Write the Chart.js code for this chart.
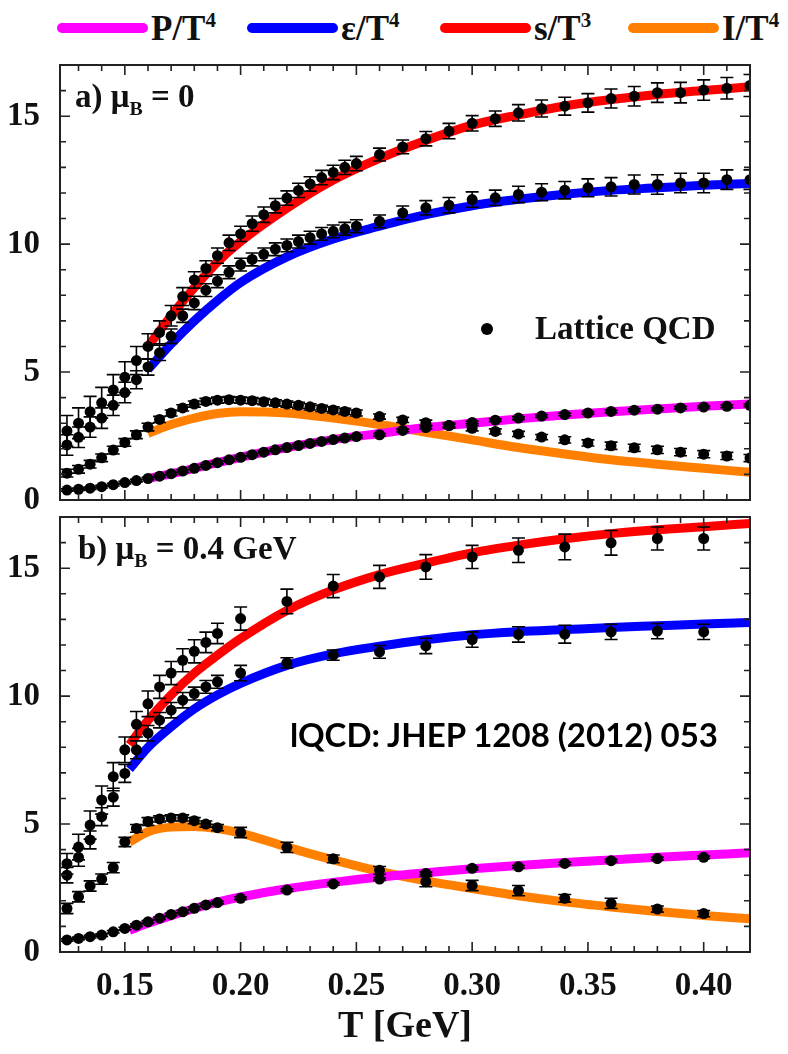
<!DOCTYPE html>
<html>
<head>
<meta charset="utf-8">
<title>QCD equation of state</title>
<script src="https://cdn.jsdelivr.net/npm/chart.js@4.4.1/dist/chart.umd.min.js"></script>
<style>
  html, body { margin: 0; padding: 0; background: #fff; }
  body { position: relative; width: 788px; height: 1054px; overflow: hidden;
         font-family: "Liberation Serif", "DejaVu Serif", serif; color: #111; }
  canvas { position: absolute; left: 0; }
  #panelA { top: 50px; }
  #panelB { top: 500px; }
  .txt { position: absolute; white-space: nowrap; font-weight: bold; }
  .legLine { position: absolute; top: 23px; height: 10px; width: 91px; border-radius: 5px; }
  .legText { top: 12px; font-size: 35px; line-height: 34px; }
  .note { font-size: 33px; line-height: 33px; font-family: "Liberation Serif", serif; }
  sup, sub { font-size: 0.6em; line-height: 0; }
  #ref { font-family: Lato, "Open Sans", sans-serif; font-size: 33px; line-height: 32px;
         left: 290px; top: 718px; color: #000; }
  #dot { position: absolute; left: 481px; top: 323px; width: 12px; height: 12px;
         border-radius: 50%; background: #000; }
</style>
</head>
<body>
<canvas id="panelA" width="788" height="470"></canvas>
<canvas id="panelB" width="788" height="554"></canvas>
<div id="legend"></div>
<div class="txt note" style="left:75px; top:80px">a) μ<sub>B</sub> = 0</div>
<div class="txt note" style="left:78px; top:532px">b) μ<sub>B</sub> = 0.4 GeV</div>
<div id="dot"></div>
<div class="txt note" style="left:535px; top:312px">Lattice QCD</div>
<div class="txt" id="ref">lQCD: JHEP 1208 (2012) 053</div>

<script>
// series order everywhere: P/T^4, eps/T^4, s/T^3, I/T^4
const seriesNames = ['P/T<sup>4</sup>', 'ε/T<sup>4</sup>', 's/T<sup>3</sup>', 'I/T<sup>4</sup>'];
const seriesColors = ['#ff00ff', '#0000ff', '#ff0000', '#ff8000'];

// ---- panel a) muB = 0 : lattice points ----
const tLatA = [0.125, 0.130, 0.135, 0.140, 0.145, 0.150, 0.155, 0.160, 0.165, 0.170, 0.175, 0.180, 0.185,
               0.190, 0.195, 0.200, 0.205, 0.210, 0.215, 0.220, 0.225, 0.230, 0.235, 0.240, 0.245, 0.250,
               0.26, 0.27, 0.28, 0.29, 0.30, 0.31, 0.32, 0.33, 0.34, 0.35, 0.36, 0.37, 0.38, 0.39, 0.40, 0.41, 0.42];
const pLatA = [0.39, 0.42, 0.46, 0.52, 0.60, 0.68, 0.76, 0.84, 0.93, 1.03, 1.13, 1.24, 1.35,
               1.46, 1.57, 1.67, 1.77, 1.87, 1.96, 2.05, 2.13, 2.21, 2.29, 2.36, 2.42, 2.48,
               2.55, 2.72, 2.83, 2.91, 3.03, 3.12, 3.20, 3.28, 3.34, 3.40, 3.46, 3.51, 3.55, 3.60, 3.63, 3.66, 3.70];
const eLatA = [2.15, 2.45, 2.85, 3.20, 3.70, 4.20, 4.70, 5.20, 5.75, 6.40, 7.20, 7.70, 8.20,
               8.55, 8.90, 9.20, 9.40, 9.60, 9.80, 9.95, 10.10, 10.25, 10.40, 10.50, 10.60, 10.70,
               10.89, 11.22, 11.42, 11.52, 11.74, 11.81, 11.94, 12.03, 12.11, 12.20, 12.24, 12.33, 12.33, 12.39, 12.39, 12.52, 12.52];
const sLatA = [2.70, 3.00, 3.45, 3.80, 4.30, 4.80, 5.45, 6.00, 6.55, 7.20, 7.95, 8.60, 9.05,
               9.55, 10.05, 10.40, 10.80, 11.15, 11.50, 11.80, 12.10, 12.35, 12.60, 12.80, 13.00, 13.15,
               13.50, 13.80, 14.12, 14.42, 14.72, 14.90, 15.13, 15.30, 15.39, 15.52, 15.69, 15.78, 15.92, 15.92, 16.02, 16.09, 16.20];
const iLatA = [1.05, 1.20, 1.40, 1.65, 1.95, 2.25, 2.55, 2.85, 3.15, 3.40, 3.60, 3.75, 3.85,
               3.90, 3.92, 3.90, 3.88, 3.84, 3.80, 3.75, 3.70, 3.64, 3.58, 3.52, 3.46, 3.40,
               3.26, 3.13, 3.02, 2.91, 2.80, 2.68, 2.58, 2.46, 2.35, 2.23, 2.12, 2.04, 1.96, 1.87, 1.79, 1.72, 1.64];
const pErrA = [0.05, 0.05, 0.05, 0.05, 0.05, 0.05, 0.05, 0.05, 0.05, 0.05, 0.05, 0.05, 0.05,
               0.05, 0.05, 0.05, 0.05, 0.05, 0.05, 0.05, 0.05, 0.05, 0.05, 0.05, 0.05, 0.05,
               0.05, 0.05, 0.05, 0.05, 0.05, 0.05, 0.05, 0.05, 0.05, 0.05, 0.05, 0.05, 0.05, 0.05, 0.05, 0.05, 0.05];
const eErrA = [0.40, 0.40, 0.40, 0.40, 0.40, 0.40, 0.35, 0.32, 0.30, 0.28, 0.26, 0.26, 0.25,
               0.25, 0.25, 0.25, 0.25, 0.25, 0.25, 0.25, 0.25, 0.25, 0.25, 0.25, 0.25, 0.25,
               0.25, 0.27, 0.28, 0.30, 0.30, 0.30, 0.32, 0.33, 0.34, 0.35, 0.36, 0.37, 0.38, 0.38, 0.38, 0.38, 0.38];
const sErrA = [0.60, 0.60, 0.60, 0.60, 0.60, 0.60, 0.55, 0.50, 0.45, 0.40, 0.35, 0.32, 0.30,
               0.30, 0.30, 0.30, 0.30, 0.30, 0.28, 0.28, 0.28, 0.28, 0.28, 0.28, 0.28, 0.28,
               0.25, 0.27, 0.28, 0.30, 0.30, 0.30, 0.32, 0.33, 0.35, 0.36, 0.37, 0.38, 0.38, 0.40, 0.40, 0.42, 0.43];
const iErrA = [0.15, 0.15, 0.15, 0.15, 0.15, 0.15, 0.15, 0.15, 0.12, 0.12, 0.12, 0.12, 0.12,
               0.12, 0.12, 0.12, 0.12, 0.12, 0.12, 0.12, 0.12, 0.12, 0.12, 0.12, 0.12, 0.12,
               0.10, 0.10, 0.10, 0.10, 0.10, 0.10, 0.10, 0.10, 0.12, 0.12, 0.14, 0.14, 0.14, 0.14, 0.14, 0.14, 0.14];

// ---- panel a) model curves ----
const tModA = [0.16, 0.17, 0.18, 0.19, 0.20, 0.22, 0.24, 0.26, 0.28, 0.30, 0.32, 0.34, 0.36, 0.38, 0.40, 0.42];
const pModA = [0.84, 1.03, 1.24, 1.46, 1.67, 2.05, 2.36, 2.60, 2.83, 3.00, 3.17, 3.32, 3.45, 3.56, 3.66, 3.75];
const eModA = [5.1, 6.1, 7.0, 7.8, 8.5, 9.5, 10.2, 10.7, 11.15, 11.5, 11.75, 11.95, 12.1, 12.2, 12.3, 12.37];
const sModA = [6.0, 7.2, 8.3, 9.3, 10.1, 11.4, 12.5, 13.35, 14.05, 14.65, 15.05, 15.4, 15.65, 15.85, 16.0, 16.15];
const iModA = [2.6, 2.95, 3.2, 3.38, 3.45, 3.4, 3.2, 2.95, 2.65, 2.35, 2.05, 1.8, 1.57, 1.4, 1.24, 1.08];

// ---- panel b) muB = 0.4 GeV : lattice points ----
const tLatB = [0.125, 0.130, 0.135, 0.140, 0.145, 0.150, 0.155, 0.160, 0.165, 0.170, 0.175, 0.180, 0.185, 0.190,
               0.20, 0.22, 0.24, 0.26, 0.28, 0.30, 0.32, 0.34, 0.36, 0.38, 0.40];
const pLatB = [0.47, 0.53, 0.60, 0.66, 0.79, 0.92, 1.05, 1.18, 1.32, 1.47, 1.57, 1.71, 1.84, 1.93,
               2.10, 2.42, 2.66, 2.85, 3.07, 3.27, 3.33, 3.46, 3.57, 3.65, 3.70];
const eLatB = [3.00, 3.70, 4.38, 5.29, 6.05, 6.98, 7.90, 8.55, 9.06, 9.45, 9.84, 10.10, 10.36, 10.56,
               10.90, 11.30, 11.60, 11.73, 11.96, 12.21, 12.41, 12.42, 12.51, 12.54, 12.51];
const sLatB = [3.45, 4.10, 4.96, 5.94, 6.85, 7.90, 8.90, 9.70, 10.36, 10.90, 11.40, 11.75, 12.10, 12.45,
               13.03, 13.70, 14.30, 14.66, 15.05, 15.44, 15.70, 15.83, 15.99, 16.16, 16.16];
const iLatB = [1.70, 2.16, 2.58, 2.85, 3.30, 4.30, 4.83, 5.10, 5.20, 5.24, 5.24, 5.13, 5.00, 4.86,
               4.67, 4.09, 3.64, 3.19, 2.75, 2.60, 2.40, 2.10, 1.90, 1.68, 1.50];
const pErrB = [0.05, 0.05, 0.05, 0.05, 0.05, 0.05, 0.05, 0.05, 0.05, 0.05, 0.05, 0.05, 0.05, 0.05,
               0.05, 0.05, 0.05, 0.05, 0.05, 0.05, 0.05, 0.05, 0.05, 0.05, 0.05];
const eErrB = [0.30, 0.35, 0.35, 0.35, 0.35, 0.35, 0.35, 0.30, 0.30, 0.30, 0.30, 0.25, 0.25, 0.25,
               0.30, 0.20, 0.20, 0.25, 0.30, 0.30, 0.30, 0.35, 0.30, 0.30, 0.30];
const sErrB = [0.40, 0.50, 0.55, 0.55, 0.55, 0.50, 0.50, 0.50, 0.45, 0.45, 0.45, 0.45, 0.40, 0.40,
               0.45, 0.48, 0.45, 0.45, 0.48, 0.45, 0.48, 0.50, 0.48, 0.45, 0.45];
const iErrB = [0.20, 0.20, 0.20, 0.20, 0.20, 0.18, 0.15, 0.15, 0.12, 0.12, 0.12, 0.12, 0.12, 0.12,
               0.20, 0.20, 0.15, 0.15, 0.20, 0.20, 0.20, 0.15, 0.20, 0.12, 0.12];

// ---- panel b) model curves ----
const tModB = [0.152, 0.16, 0.17, 0.18, 0.19, 0.20, 0.22, 0.24, 0.26, 0.28, 0.30, 0.32, 0.34, 0.36, 0.38, 0.40, 0.42];
const pModB = [0.85, 1.12, 1.42, 1.70, 1.95, 2.15, 2.47, 2.72, 2.93, 3.10, 3.25, 3.38, 3.50, 3.60, 3.70, 3.79, 3.88];
const eModB = [7.15, 8.0, 8.8, 9.5, 10.05, 10.5, 11.2, 11.65, 11.95, 12.2, 12.4, 12.52, 12.6, 12.68, 12.75, 12.82, 12.88];
const sModB = [8.1, 9.05, 10.05, 10.9, 11.6, 12.25, 13.35, 14.15, 14.75, 15.2, 15.6, 15.9, 16.15, 16.35, 16.5, 16.62, 16.75];
const iModB = [4.3, 4.7, 4.88, 4.9, 4.82, 4.65, 4.1, 3.6, 3.15, 2.78, 2.48, 2.2, 1.96, 1.76, 1.58, 1.43, 1.3];

const xTicks = [0.15, 0.20, 0.25, 0.30, 0.35, 0.40];
const yTicks = [0, 5, 10, 15];

const SERIF = '"Liberation Serif", serif';

// legend row at the top
(function buildLegend() {
    const lineLeft = [57, 247, 440, 628];
    const legend = document.getElementById('legend');
    seriesNames.forEach(function (name, k) {
        const bar = document.createElement('div');
        bar.className = 'legLine';
        bar.style.left = lineLeft[k] + 'px';
        bar.style.background = seriesColors[k];
        legend.appendChild(bar);
        const label = document.createElement('div');
        label.className = 'txt legText';
        label.style.left = (lineLeft[k] + 94) + 'px';
        label.innerHTML = name;
        legend.appendChild(label);
    });
})();

function pts(xs, ys) {
    return xs.map(function (x, i) { return { x: x, y: ys[i] }; });
}

// error bars for the lattice datasets
const errorBars = {
    id: 'errorBars',
    afterDatasetsDraw(chart) {
        const ctx = chart.ctx;
        const area = chart.chartArea;
        const xs = chart.scales.x, ys = chart.scales.y;
        ctx.save();
        ctx.beginPath();
        ctx.rect(area.left, area.top, area.right - area.left, area.bottom - area.top);
        ctx.clip();
        ctx.strokeStyle = '#000';
        ctx.lineWidth = 1.6;
        chart.data.datasets.forEach(function (ds) {
            if (!ds.errors) return;
            ds.data.forEach(function (p, i) {
                const px = xs.getPixelForValue(p.x);
                const top = ys.getPixelForValue(p.y + ds.errors[i]);
                const bot = ys.getPixelForValue(p.y - ds.errors[i]);
                ctx.beginPath();
                ctx.moveTo(px, top); ctx.lineTo(px, bot);
                ctx.moveTo(px - 6.5, top); ctx.lineTo(px + 6.5, top);
                ctx.moveTo(px - 6.5, bot); ctx.lineTo(px + 6.5, bot);
                ctx.stroke();
            });
        });
        ctx.restore();
    }
};

// closed frame with inward ticks on all four sides
const frameTicks = {
    id: 'frameTicks',
    afterDraw(chart) {
        const ctx = chart.ctx;
        const a = chart.chartArea;
        const xs = chart.scales.x, ys = chart.scales.y;
        ctx.save();
        ctx.strokeStyle = '#222';
        ctx.lineWidth = 1.6;
        ctx.beginPath();
        for (let i = 12; i <= 42; i++) {
            const px = xs.getPixelForValue(i / 100);
            if (px <= a.left + 1 || px >= a.right - 1) continue;
            const len = i % 5 === 0 ? 10 : 6;
            ctx.moveTo(px, a.bottom); ctx.lineTo(px, a.bottom - len);
            ctx.moveTo(px, a.top); ctx.lineTo(px, a.top + len);
        }
        for (let v = 1; v <= 16; v++) {
            const py = ys.getPixelForValue(v);
            const len = v % 5 === 0 ? 10 : 6;
            ctx.moveTo(a.left, py); ctx.lineTo(a.left + len, py);
            ctx.moveTo(a.right, py); ctx.lineTo(a.right - len, py);
        }
        ctx.stroke();
        ctx.lineWidth = 2;
        ctx.strokeRect(a.left, a.top, a.right - a.left, a.bottom - a.top);
        ctx.restore();
    }
};

function makePanel(canvasId, cfg) {
    const lines = cfg.model.map(function (vals, k) {
        return {
            type: 'line',
            data: pts(cfg.tModel, vals),
            showLine: true,
            borderColor: seriesColors[k],
            borderWidth: 9,
            pointRadius: 0,
            cubicInterpolationMode: 'monotone',
            order: 1,
            clip: 0
        };
    });
    const dots = cfg.lattice.map(function (vals, k) {
        return {
            type: 'scatter',
            data: pts(cfg.tLat, vals),
            errors: cfg.errors[k],
            pointRadius: 5.5,
            pointBackgroundColor: '#000',
            pointBorderWidth: 0,
            order: 0,
            clip: 0
        };
    });

    return new Chart(document.getElementById(canvasId), {
        type: 'scatter',
        data: { datasets: lines.concat(dots) },
        options: {
            responsive: false,
            animation: false,
            layout: { padding: cfg.padding },
            plugins: {
                legend: { display: false },
                tooltip: { enabled: false }
            },
            scales: {
                x: {
                    type: 'linear',
                    min: 0.122,
                    max: 0.42,
                    display: cfg.showX,
                    afterBuildTicks: function (s) { s.ticks = xTicks.map(function (v) { return { value: v }; }); },
                    ticks: {
                        autoSkip: false,
                        maxRotation: 0,
                        padding: 7,
                        color: '#111',
                        font: { family: SERIF, size: 33, weight: 'bold' },
                        callback: function (v) { return Number(v).toFixed(2); }
                    },
                    grid: { display: false },
                    border: { display: false },
                    title: {
                        display: cfg.showX,
                        text: 'T [GeV]',
                        color: '#111',
                        font: { family: SERIF, size: 38, weight: 'bold' },
                        padding: { top: 0, bottom: 4 }
                    },
                    afterFit: function (s) {
                        if (cfg.showX) s.height = 102;
                        s.paddingLeft = 0; s.paddingRight = 0;
                    }
                },
                y: {
                    type: 'linear',
                    min: 0,
                    max: 17,
                    afterBuildTicks: function (s) { s.ticks = yTicks.map(function (v) { return { value: v }; }); },
                    ticks: {
                        padding: 12,
                        color: '#111',
                        font: { family: SERIF, size: 33, weight: 'bold' }
                    },
                    grid: { display: false },
                    border: { display: false },
                    afterFit: function (s) {
                        s.width = 60;
                        s.paddingTop = 0; s.paddingBottom = 0;
                    }
                }
            }
        },
        plugins: [errorBars, frameTicks]
    });
}

makePanel('panelA', {
    tLat: tLatA,
    lattice: [pLatA, eLatA, sLatA, iLatA],
    errors: [pErrA, eErrA, sErrA, iErrA],
    tModel: tModA,
    model: [pModA, eModA, sModA, iModA],
    showX: false,
    padding: { top: 15, bottom: 20, left: 0, right: 38 }
});

makePanel('panelB', {
    tLat: tLatB,
    lattice: [pLatB, eLatB, sLatB, iLatB],
    errors: [pErrB, eErrB, sErrB, iErrB],
    tModel: tModB,
    model: [pModB, eModB, sModB, iModB],
    showX: true,
    padding: { top: 17, bottom: 0, left: 0, right: 38 }
});
</script>
</body>
</html>
